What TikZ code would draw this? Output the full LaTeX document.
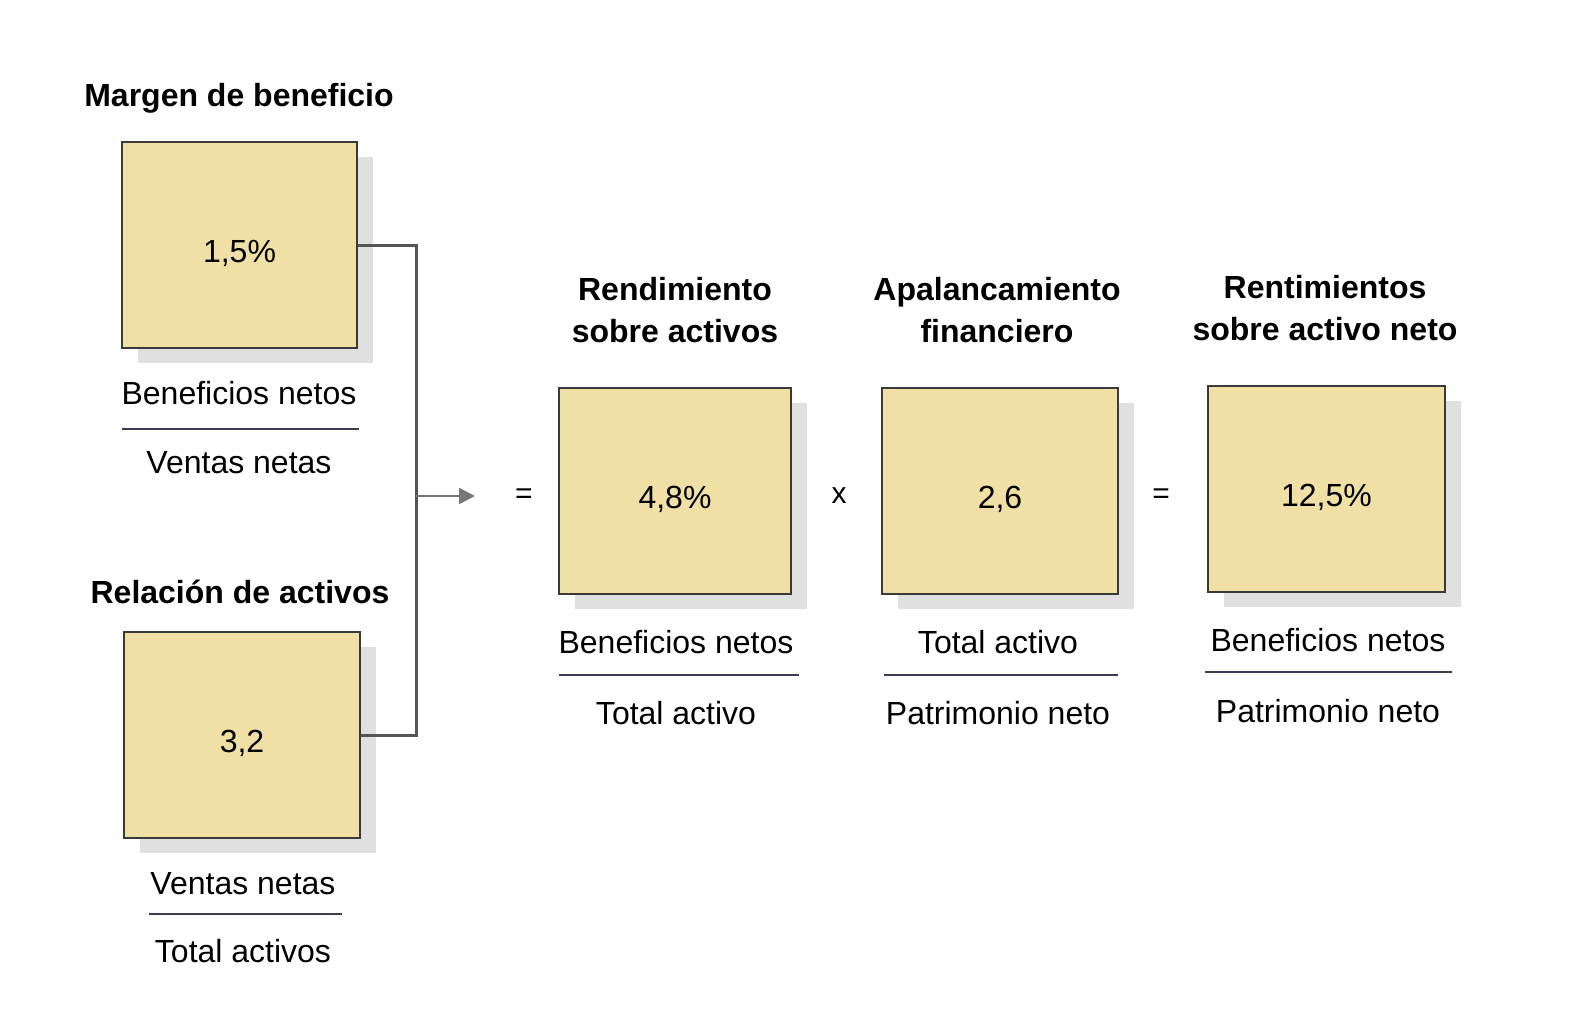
\documentclass[tikz,border=0pt]{standalone}
\usepackage{fontspec}
\setmainfont{Liberation Sans}
\usetikzlibrary{shadows,arrows.meta}
\definecolor{boxfill}{HTML}{F0E0A6}
\definecolor{boxline}{HTML}{3A3A3A}
\definecolor{conn}{HTML}{555555}
\definecolor{frac}{HTML}{3C3C5A}
\newcommand{\boxval}[1]{\raisebox{-17pt}[0pt][0pt]{#1}}
\begin{document}
\begin{tikzpicture}[x=1pt,y=-1pt,
  valbox/.style={draw=boxline, line width=2pt, fill=boxfill, inner sep=0pt,
    font=\fontsize{32}{36}\selectfont,
    drop shadow={shadow xshift=16pt, shadow yshift=-15pt, fill=black!12, opacity=1}},
  ttl/.style={font=\fontsize{32}{42}\selectfont\bfseries, align=center, inner sep=0pt},
  lbl/.style={font=\fontsize{32}{36}\selectfont, inner sep=0pt},
  op/.style={font=\fontsize{30}{34}\selectfont, inner sep=0pt},
  fracline/.style={draw=frac, line width=2.5pt},
  connline/.style={draw=conn, line width=3pt}]
\useasboundingbox (0,0) rectangle (1579,1014);

% left column
\node[ttl] (t1) at (239,98) {Margen de beneficio};
\node[valbox, minimum width=235pt, minimum height=206pt] (b1) at (239.5,245) {\boxval{1,5\%}};
\node[lbl] (n1) at (239,393) {Beneficios netos};
\draw[fracline] (122,429) -- (359,429);
\node[lbl] (d1) at (239,463) {Ventas netas};

\node[ttl] (t2) at (240,592) {Relación de activos};
\node[valbox, minimum width=236pt, minimum height=206pt] (b2) at (242,735) {\boxval{3,2}};
\node[lbl] (n2) at (243,884) {Ventas netas};
\draw[fracline] (149,914) -- (342,914);
\node[lbl] (d2) at (243,951) {Total activos};

% connector
\coordinate (j) at (416,496);
\coordinate (ae) at (475,496);
\draw[connline] (b1.east) -| (j) |- (b2.east);
\draw[draw=conn!80, line width=2.5pt, -{Triangle[length=16pt,width=16pt]}] (j) -- (ae);

\node[op] (eq1) at (524,496) {=};

% box 3
\node[ttl] (t3) at (675,310) {Rendimiento\\sobre activos};
\node[valbox, minimum width=232pt, minimum height=206pt] (b3) at (675,491) {\boxval{4,8\%}};
\node[lbl] (n3) at (676,642) {Beneficios netos};
\draw[fracline] (559,675) -- (799,675);
\node[lbl] (d3) at (676,713) {Total activo};

\node[op] (x1) at (839,496) {x};

% box 4
\node[ttl] (t4) at (997,310) {Apalancamiento\\financiero};
\node[valbox, minimum width=236pt, minimum height=206pt] (b4) at (1000,491) {\boxval{2,6}};
\node[lbl] (n4) at (998,642) {Total activo};
\draw[fracline] (884,675) -- (1118,675);
\node[lbl] (d4) at (998,713) {Patrimonio neto};

\node[op] (eq2) at (1161,496) {=};

% box 5
\node[ttl] (t5) at (1325,308) {Rentimientos\\sobre activo neto};
\node[valbox, minimum width=237pt, minimum height=206pt] (b5) at (1326.5,489) {\boxval{12,5\%}};
\node[lbl] (n5) at (1328,640) {Beneficios netos};
\draw[fracline] (1205,672) -- (1452,672);
\node[lbl] (d5) at (1328,711) {Patrimonio neto};
\end{tikzpicture}
\end{document}
